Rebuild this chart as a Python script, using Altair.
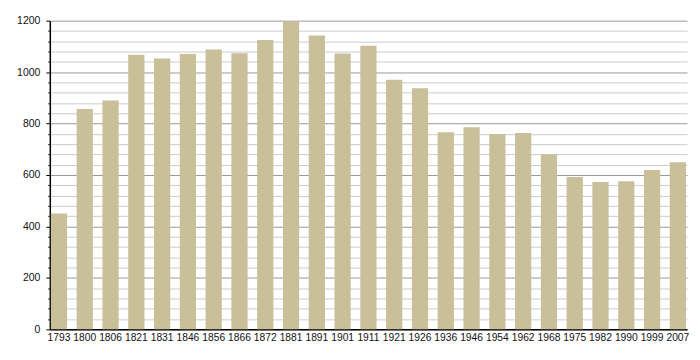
import altair as alt
import pandas as pd

years = ["1793", "1800", "1806", "1821", "1831", "1846", "1856", "1866", "1872", "1881",
         "1891", "1901", "1911", "1921", "1926", "1936", "1946", "1954", "1962", "1968",
         "1975", "1982", "1990", "1999", "2007"]
population = [450, 857, 890, 1068, 1053, 1070, 1088, 1073, 1125, 1197,
              1142, 1072, 1103, 970, 937, 766, 786, 759, 763, 681,
              592, 573, 576, 619, 650]

df = pd.DataFrame({"year": years, "pop": population})

ytick_values = list(range(0, 1201, 40))
font = "Liberation Sans"

chart = alt.Chart(df).mark_bar(color="#c9c09a").encode(
    x=alt.X("year:N", sort=years, title=None,
            scale=alt.Scale(paddingInner=0.37, paddingOuter=0.04),
            axis=alt.Axis(labelAngle=0, ticks=False, domainColor="#000", domainWidth=1.5,
                          labelFont=font, labelFontSize=10.3, labelColor="#111",
                          labelPadding=3)),
    y=alt.Y("pop:Q", title=None,
            scale=alt.Scale(domain=[0, 1200], nice=False),
            axis=alt.Axis(values=ytick_values,
                          labelExpr="datum.value % 200 === 0 ? datum.label : ''",
                          format="d",
                          grid=True,
                          gridColor={"condition": {"test": "datum.value % 200 === 0", "value": "#999999"}, "value": "#cccccc"},
                          gridWidth=1,
                          tickColor="#000",
                          tickSize={"condition": {"test": "datum.value % 200 === 0", "value": 4}, "value": 2},
                          domainColor="#000", domainWidth=1.5,
                          labelFont=font, labelFontSize=10.5, labelColor="#111",
                          labelPadding=6)),
).properties(
    width=640,
    height=310,
    autosize=alt.AutoSizeParams(type="none"),
    padding={"left": 42, "top": 12, "right": 5, "bottom": 16},
).configure_view(stroke=None)

chart.save("out.html", embed_options={"renderer": "svg", "actions": False})
